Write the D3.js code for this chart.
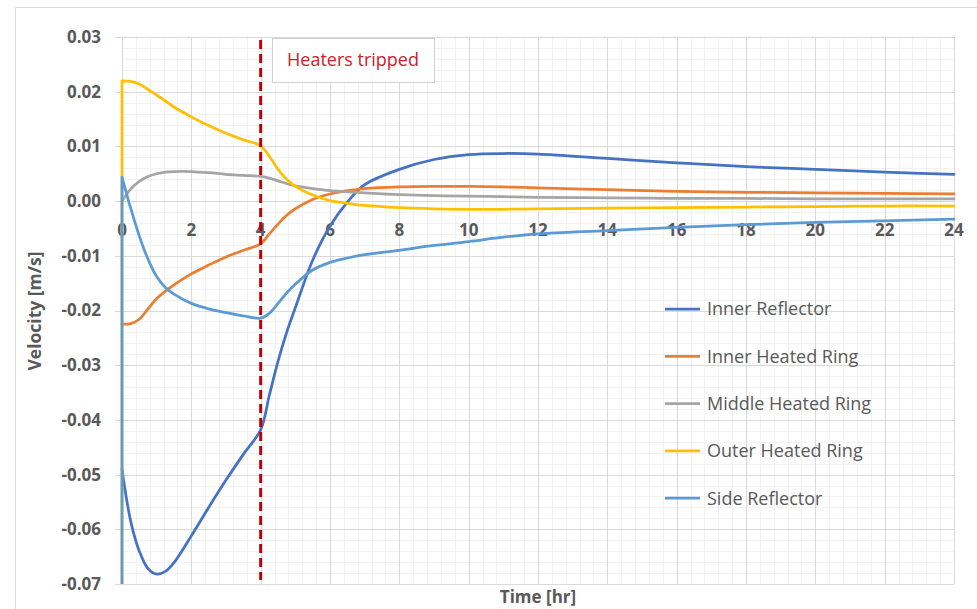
<!DOCTYPE html>
<html>
<head>
<meta charset="utf-8">
<script src="https://cdn.jsdelivr.net/npm/d3@7"></script>
<style>
  html, body { margin: 0; padding: 0; background: #fff; }
  svg { display: block; }
  text { font-family: "Open Sans", Lato, sans-serif; }
</style>
</head>
<body>
<svg id="chart" width="977" height="609"></svg>
<script>
// Time axis samples [hr]; the first entry is the starting value at t = 0
const hours = [0, 0, 0.25, 0.5, 0.75, 1, 1.25, 1.5, 2, 2.5, 3, 3.5, 4, 4.25, 4.5, 4.75, 5, 5.5, 6, 6.5, 7, 8, 9, 10, 11, 12, 14, 16, 18, 20, 22, 24];

// Velocities [m/s]
const innerReflector = [-0.049, -0.049, -0.0585, -0.0640, -0.0672, -0.0682, -0.0677, -0.0661, -0.0612, -0.0560, -0.0510, -0.0463, -0.0418, -0.0355, -0.0293, -0.0240, -0.0195, -0.0108, -0.0046, -0.0002, 0.0030, 0.0058, 0.0076, 0.0085, 0.0087, 0.0086, 0.0078, 0.0070, 0.0063, 0.0058, 0.0053, 0.0049];
const innerHeatedRing = [-0.0225, -0.0225, -0.0224, -0.0216, -0.0197, -0.0178, -0.0165, -0.0153, -0.0133, -0.0117, -0.0102, -0.0090, -0.0078, -0.0060, -0.0042, -0.0026, -0.0014, 0.0003, 0.0013, 0.0019, 0.0023, 0.0026, 0.0027, 0.0027, 0.0026, 0.0024, 0.0021, 0.0018, 0.0016, 0.0015, 0.0014, 0.0013];
const middleHeatedRing = [0.0, 0.0, 0.0022, 0.0036, 0.0045, 0.0050, 0.0053, 0.0054, 0.0054, 0.0052, 0.0049, 0.0047, 0.0045, 0.0042, 0.0037, 0.0032, 0.0028, 0.0023, 0.0019, 0.0017, 0.0015, 0.0012, 0.0010, 0.0009, 0.0008, 0.0007, 0.0006, 0.0005, 0.0005, 0.0004, 0.0004, 0.0004];
const outerHeatedRing = [-0.08, 0.0220, 0.0219, 0.0214, 0.0204, 0.0194, 0.0183, 0.0172, 0.0154, 0.0138, 0.0124, 0.0112, 0.0101, 0.0082, 0.0058, 0.0040, 0.0027, 0.0011, 0.0001, -0.0004, -0.0008, -0.0012, -0.0014, -0.0015, -0.0015, -0.0014, -0.0013, -0.0012, -0.0011, -0.0010, -0.0009, -0.0009];
const sideReflector = [-0.08, 0.0044, -0.0013, -0.0064, -0.0106, -0.0138, -0.0158, -0.0170, -0.0187, -0.0197, -0.0204, -0.0210, -0.0214, -0.0205, -0.0187, -0.0168, -0.0152, -0.0126, -0.0112, -0.0104, -0.0098, -0.0090, -0.0081, -0.0074, -0.0066, -0.0060, -0.0054, -0.0048, -0.0043, -0.0039, -0.0036, -0.0033];

const seriesNames = ["Inner Reflector", "Inner Heated Ring", "Middle Heated Ring", "Outer Heated Ring", "Side Reflector"];
const seriesValues = [innerReflector, innerHeatedRing, middleHeatedRing, outerHeatedRing, sideReflector];
const seriesColors = ["#4472C4", "#ED7D31", "#A5A5A5", "#FFC000", "#5B9BD5"];

const xTicks = [0, 2, 4, 6, 8, 10, 12, 14, 16, 18, 20, 22, 24];
const yTicks = [0.03, 0.02, 0.01, 0.00, -0.01, -0.02, -0.03, -0.04, -0.05, -0.06, -0.07];
const tripTime = 4;
const tripLabel = "Heaters tripped";

const svg = d3.select("#chart");
const plot = { left: 122, right: 954, top: 37, bottom: 584 };

const x = d3.scaleLinear().domain([0, 24]).range([plot.left, plot.right]);
const y = d3.scaleLinear().domain([-0.07, 0.03]).range([plot.bottom, plot.top]);

// chart frame
svg.append("rect")
  .attr("x", 15.5).attr("y", 7.5).attr("width", 1000).attr("height", 700)
  .attr("fill", "#fff").attr("stroke", "#D9D9D9").attr("stroke-width", 1);

// minor gridlines
const g = svg.append("g");
const minorX = d3.range(0, 24.0001, 0.4);
const minorY = d3.range(-0.07, 0.03001, 0.002);
g.selectAll("line.mx").data(minorX).join("line")
  .attr("x1", d => Math.round(x(d)) + 0.5).attr("x2", d => Math.round(x(d)) + 0.5)
  .attr("y1", plot.top).attr("y2", plot.bottom)
  .attr("stroke", "#F2F2F2");
g.selectAll("line.my").data(minorY).join("line")
  .attr("y1", d => Math.round(y(d)) + 0.5).attr("y2", d => Math.round(y(d)) + 0.5)
  .attr("x1", plot.left).attr("x2", plot.right)
  .attr("stroke", "#F2F2F2");

// major gridlines
g.selectAll("line.Mx").data(xTicks).join("line")
  .attr("x1", d => Math.round(x(d)) + 0.5).attr("x2", d => Math.round(x(d)) + 0.5)
  .attr("y1", plot.top).attr("y2", plot.bottom)
  .attr("stroke", "#D9D9D9");
g.selectAll("line.My").data(yTicks).join("line")
  .attr("y1", d => Math.round(y(d)) + 0.5).attr("y2", d => Math.round(y(d)) + 0.5)
  .attr("x1", plot.left - 7).attr("x2", plot.right)
  .attr("stroke", "#D9D9D9");

// y tick labels (plain hyphen for negatives)
const fmt = d3.format(".2f");
svg.append("g").selectAll("text").data(yTicks).join("text")
  .attr("x", 101).attr("y", d => y(d))
  .attr("dy", "0.35em")
  .attr("text-anchor", "end")
  .attr("font-size", 17).attr("font-weight", 700).attr("fill", "#595959")
  .text(d => fmt(d).replace("\u2212", "-"));

// x tick labels, next to the zero line
svg.append("g").selectAll("text").data(xTicks).join("text")
  .attr("x", d => x(d)).attr("y", y(0) + 35)
  .attr("text-anchor", "middle")
  .attr("font-size", 17).attr("font-weight", 700).attr("fill", "#595959")
  .text(d => d);

// axis titles
svg.append("text")
  .attr("transform", `translate(41,311) rotate(-90)`)
  .attr("text-anchor", "middle")
  .attr("font-size", 17.5).attr("font-weight", 700).attr("fill", "#595959")
  .text("Velocity [m/s]");
svg.append("text")
  .attr("x", 538).attr("y", 603)
  .attr("text-anchor", "middle")
  .attr("font-size", 17).attr("font-weight", 700).attr("fill", "#595959")
  .text("Time [hr]");

// series
svg.append("clipPath").attr("id", "plotClip")
  .append("rect").attr("x", plot.left - 2).attr("y", plot.top)
  .attr("width", plot.right - plot.left + 4).attr("height", plot.bottom - plot.top);

const straight = d3.line().x(d => x(d[0])).y(d => y(d[1]));
const smooth = d3.line().x(d => x(d[0])).y(d => y(d[1])).curve(d3.curveCatmullRom.alpha(0.5));

const lines = svg.append("g").attr("clip-path", "url(#plotClip)");
seriesValues.forEach((vals, i) => {
  const pts = hours.map((h, k) => [h, vals[k]]);
  const d = straight(pts.slice(0, 2)) + smooth(pts.slice(1));
  lines.append("path")
    .attr("d", d)
    .attr("fill", "none")
    .attr("stroke", seriesColors[i])
    .attr("stroke-width", 2.75)
    .attr("stroke-linejoin", "round")
    .attr("stroke-linecap", "round");
});

// heater trip marker
svg.append("line")
  .attr("x1", x(tripTime)).attr("x2", x(tripTime))
  .attr("y1", 40).attr("y2", 580)
  .attr("stroke", "#C00000").attr("stroke-width", 3)
  .attr("stroke-dasharray", "9,5");

svg.append("rect")
  .attr("x", 272.5).attr("y", 38.5).attr("width", 162).attr("height", 44)
  .attr("fill", "#fff").attr("stroke", "#D0D0D0");
svg.append("text")
  .attr("x", 353).attr("y", 60).attr("dy", "0.35em")
  .attr("text-anchor", "middle")
  .attr("font-size", 18).attr("fill", "#D0202A")
  .text(tripLabel);

// legend
const legend = svg.append("g").attr("transform", "translate(665,309)");
seriesNames.forEach((name, i) => {
  const row = legend.append("g").attr("transform", `translate(0,${i * 47.3})`);
  row.append("line").attr("x1", 0).attr("x2", 35).attr("y1", 0).attr("y2", 0)
    .attr("stroke", seriesColors[i]).attr("stroke-width", 2.75);
  row.append("text").attr("x", 42).attr("y", 0).attr("dy", "0.35em")
    .attr("font-size", 18).attr("fill", "#595959")
    .text(name);
});
</script>
</body>
</html>
